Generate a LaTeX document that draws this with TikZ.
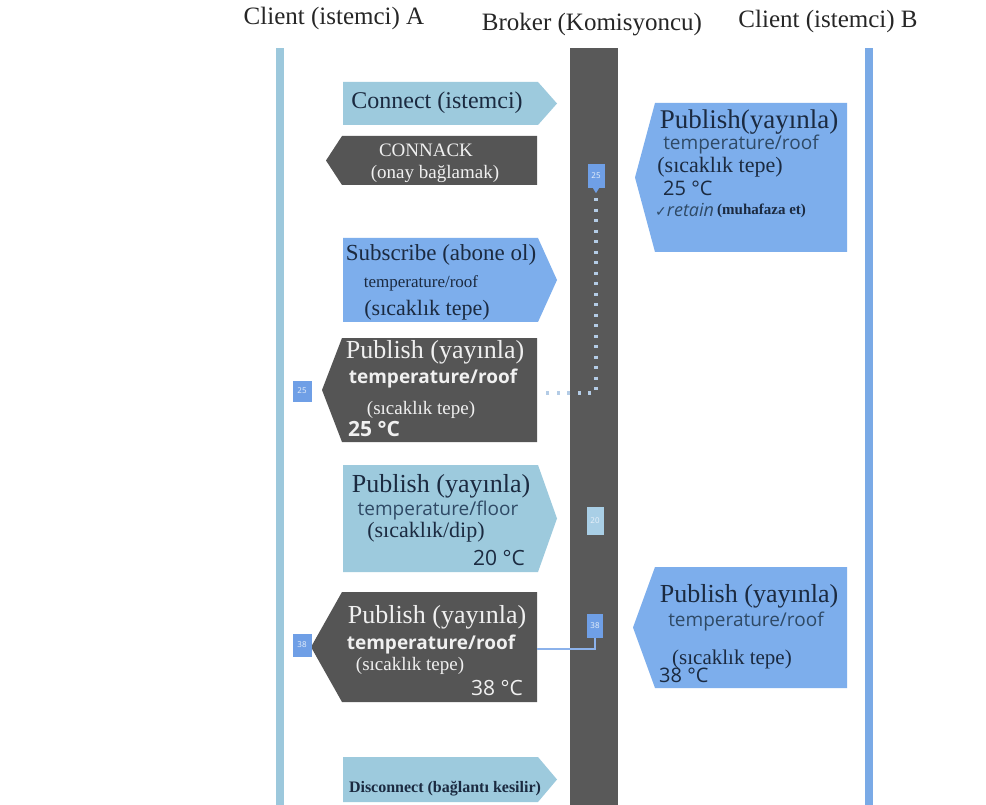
\documentclass[tikz,border=0pt]{standalone}
\usepackage{fontspec}
\setmainfont{Liberation Serif}
\setsansfont{Open Sans}
\newfontfamily\checkfont{DejaVu Sans}
\usepackage{xcolor}
\usepackage{tikz}
\usetikzlibrary{calc,positioning}

\definecolor{lineA}{HTML}{9CC8DC}
\definecolor{lineB}{HTML}{7AAAE6}
\definecolor{brokergray}{HTML}{595959}
\definecolor{msglight}{HTML}{9DCADD}
\definecolor{msgblue}{HTML}{7DAEEC}
\definecolor{msgdark}{HTML}{555555}
\definecolor{inkdark}{HTML}{1B2A40}
\definecolor{inksub}{HTML}{2F4A66}
\definecolor{inklight}{HTML}{F0F0F0}
\definecolor{badgeblue}{HTML}{6F9FE6}
\definecolor{badgelight}{HTML}{A9CFE6}
\definecolor{dotblue}{HTML}{B4CCE6}

\newcommand{\fsz}[1]{\fontsize{#1}{#1}\selectfont}

\begin{document}
\begin{tikzpicture}[x=1pt, y=-1pt]
			\tikzstyle{head}=[inner sep=0pt, font=\fsz{25}, text=black!85]
			\tikzstyle{ttl}=[inner sep=0pt, font=\fsz{26}]
			\tikzstyle{sub}=[inner sep=0pt, font=\sffamily\fsz{19}]
			\tikzstyle{note}=[inner sep=0pt, font=\fsz{20}]
			\tikzstyle{badge}=[inner sep=0pt, fill=badgeblue, minimum width=17pt, minimum height=22pt, font=\sffamily\fsz{8}, text=white!85!badgeblue]
			\tikzstyle{dotline}=[dotblue, line width=3.5pt, dash pattern=on 3pt off 7.5pt]
			\tikzstyle{feedline}=[color=badgeblue!80!white, line width=2.5pt]
			
			\useasboundingbox (0,0) rectangle (986,805);
			\fill[white] (237,0) rectangle (935,805);
			
			% lifelines
			\fill[lineA] (276,48) rectangle (284,805);
			\fill[brokergray] (570,48) rectangle (618,805);
			\fill[lineB] (865,48) rectangle (873,805);
			
			\node[head] (hA) at (334,18) {Client (istemci) A};
			\node[head] (hBroker) at (592,25) {Broker (Komisyoncu)};
			\node[head] (hB) at (828,21) {Client (istemci) B};
			
			% A -> broker
			\fill[msglight] (343,82) -- (538,82) -- (557,103.5) -- (538,125) -- (343,125) -- cycle;
			\node[ttl, font=\fsz{24}, text=inkdark] (connect) at (437,103) {Connect (istemci)};
			
			\fill[msgdark] (326,160.5) -- (342,136) -- (537,136) -- (537,185) -- (342,185) -- cycle;
			\node[note, font=\fsz{19}, text=inklight] (connack) at (426,150) {CONNACK};
			\node[note, font=\fsz{19}, text=inklight] (connack2) at (435,174) {(onay bağlamak)};
			
			% B -> broker, retained
			\fill[msgblue] (635,177.5) -- (655,103) -- (847,103) -- (847,252) -- (655,252) -- cycle;
			\node[ttl, font=\fsz{27}, text=inkdark] (pubB1) at (749,122) {Publish(yayınla)};
			\node[sub, text=inksub] (pubB1t) at (741,145) {temperature/roof};
			\node[note, font=\fsz{22}, text=inkdark] (pubB1s) at (720,167) {(sıcaklık tepe)};
			\node[sub, font=\sffamily\fsz{20}, text=inkdark, anchor=west] (pubB1v) at (663,188) {25 °C};
			\node[sub, font=\sffamily\itshape\fsz{18}, text=inksub, anchor=west] (pubB1r) at (655,210) {{\checkfont\fsz{14}✓}retain};
			\node[note, font=\bfseries\fsz{15}, text=inkdark, anchor=west] (pubB1m) at (717,211) {(muhafaza et)};
			
			\fill[msgblue] (343,238) -- (538,238) -- (557,280) -- (538,322) -- (343,322) -- cycle;
			\node[ttl, font=\fsz{23}, text=inkdark] (subA) at (441,255) {Subscribe (abone ol)};
			\node[note, font=\fsz{17}, text=inkdark] (subAt) at (421,283) {temperature/roof};
			\node[note, font=\fsz{22}, text=inkdark] (subAs) at (427,310) {(sıcaklık tepe)};
			
			% retained message to A
			\fill[msgdark] (322,390) -- (342,338) -- (537,338) -- (537,442) -- (342,442) -- cycle;
			\node[ttl, text=inklight] (pubA1) at (435,352) {Publish (yayınla)};
			\node[sub, font=\sffamily\bfseries\fsz{19}, text=inklight] (pubA1t) at (433,379) {temperature/roof};
			\node[note, font=\fsz{19}, text=inklight] (pubA1s) at (421,410) {(sıcaklık tepe)};
			\node[sub, font=\sffamily\bfseries\fsz{21}, text=inklight, anchor=west] (pubA1v) at (348,429) {25 °C};
			
			\fill[msglight] (343,465) -- (538,465) -- (557,518.5) -- (538,572) -- (343,572) -- cycle;
			\node[ttl, text=inkdark] (pubA2) at (441,486) {Publish (yayınla)};
			\node[sub, text=inksub] (pubA2t) at (438,511) {temperature/floor};
			\node[note, font=\fsz{22}, text=inkdark] (pubA2s) at (426,532) {(sıcaklık/dip)};
			\node[sub, font=\sffamily\fsz{21}, text=inkdark, anchor=east] (pubA2v) at (525,558) {20 °C};
			
			\fill[msgdark] (311,647) -- (342,592) -- (537,592) -- (537,702) -- (342,702) -- cycle;
			\node[ttl, text=inklight] (pubA3) at (437,617) {Publish (yayınla)};
			\node[sub, font=\sffamily\bfseries\fsz{19}, text=inklight] (pubA3t) at (431,645) {temperature/roof};
			\node[note, font=\fsz{19}, text=inklight] (pubA3s) at (410,666) {(sıcaklık tepe)};
			\node[sub, font=\sffamily\fsz{21}, text=inklight, anchor=east] (pubA3v) at (523,688) {38 °C};
			
			\fill[msgblue] (633,627.5) -- (655,567) -- (847,567) -- (847,688) -- (655,688) -- cycle;
			\node[ttl, text=inkdark] (pubB2) at (749,596) {Publish (yayınla)};
			\node[sub, text=inksub] (pubB2t) at (746,622) {temperature/roof};
			\node[note, font=\fsz{21}, text=inkdark] (pubB2s) at (732,659) {(sıcaklık tepe)};
			\node[sub, font=\sffamily\fsz{20}, text=inkdark, anchor=west] (pubB2v) at (659,675) {38 °C};
			
			\fill[msglight] (343,757) -- (538,757) -- (557,779.5) -- (538,802) -- (343,802) -- cycle;
			\node[note, font=\bfseries\fsz{16}, text=inkdark] (disc) at (445,789) {Disconnect (bağlantı kesilir)};
			
			% stored values
			\node[badge, minimum height=24pt] (b25) at (596,176) {25};
			\fill[badgeblue] ($(b25.south)+(-3,0)$) -- ($(b25.south)+(3,0)$) -- ($(b25.south)+(0,5)$) -- cycle;
			\node[badge, fill=badgelight, minimum height=28pt] (b20) at (595,521) {20};
			\node[badge, minimum width=16pt, minimum height=24pt] (b38) at (595,626) {38};
			\node[badge, minimum width=19pt, minimum height=21pt] (a25) at (302,391) {25};
			\node[badge, minimum width=19pt, minimum height=23pt] (a38) at (302,645) {38};
			
			\coordinate (dotend) at (543,393);
			\coordinate (d38r) at (537,649);
			\draw[dotline] ($(b25.south)+(0,10)$) |- (dotend);
			\draw[feedline] (d38r) -| (b38.south);
\end{tikzpicture}
\end{document}
